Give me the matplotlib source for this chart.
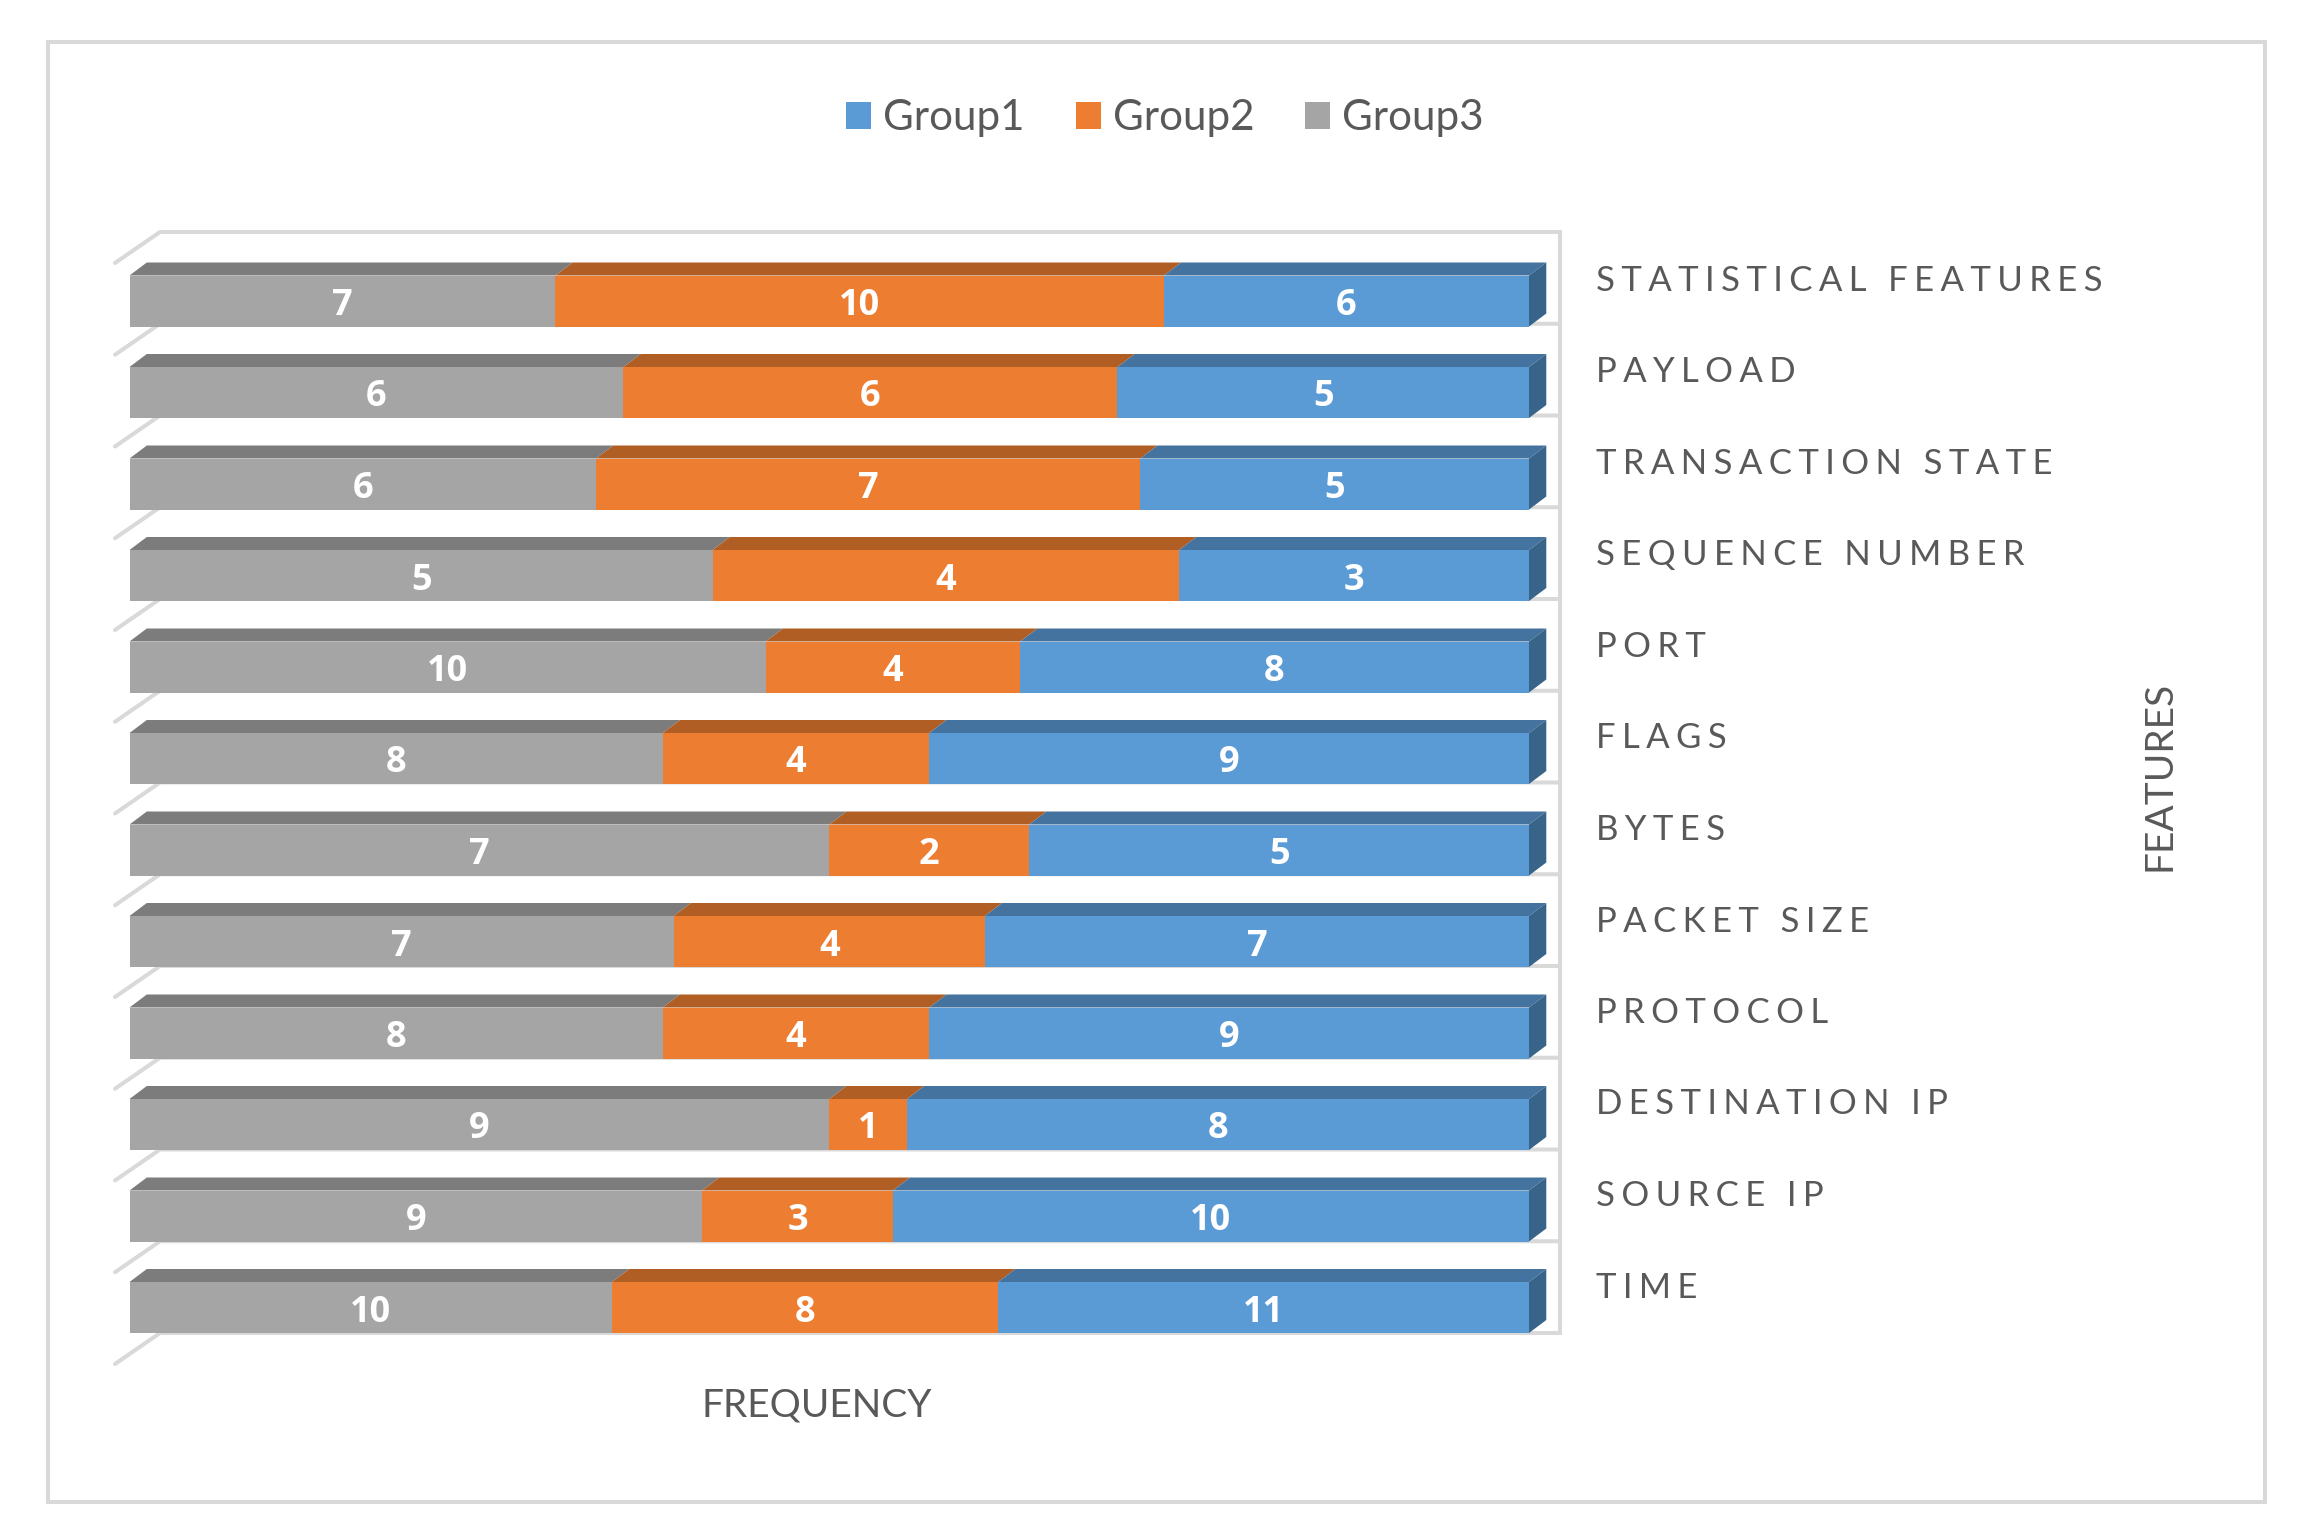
import numpy as np
import matplotlib
matplotlib.use("Agg")
import matplotlib.pyplot as plt
from matplotlib.patches import Polygon, Rectangle

plt.rcParams['font.family'] = ['Lato', 'DejaVu Sans']

# bottom row first
features = ["TIME", "SOURCE IP", "DESTINATION IP", "PROTOCOL", "PACKET SIZE", "BYTES",
            "FLAGS", "PORT", "SEQUENCE NUMBER", "TRANSACTION STATE", "PAYLOAD",
            "STATISTICAL FEATURES"]
group3 = [10, 9, 9, 8, 7, 7, 8, 10, 5, 6, 6, 7]
group2 = [8, 3, 1, 4, 4, 2, 4, 4, 4, 7, 6, 10]
group1 = [11, 10, 8, 9, 7, 5, 9, 8, 3, 5, 5, 6]

W, H = 2313, 1538
TEXT = '#595959'
GRID = '#D9D9D9'

fig = plt.figure(figsize=(W / 100, H / 100), dpi=100, facecolor='white')

# outer chart border
fig.add_artist(Rectangle((48 / W, 1 - 1502 / H), (2265 - 48) / W, (1502 - 42) / H,
                         transform=fig.transFigure, fill=False, edgecolor=GRID, linewidth=2.9))

# axes = front plane of the bars, 0-100 percent stacked
pitch = 91.5
left_px, right_px = 129.5, 1529
base_px = 1307.5 + pitch / 2
ax = fig.add_axes([left_px / W, 1 - base_px / H, (right_px - left_px) / W, pitch * 12 / H])
ax.set_xlim(0, 100)
ax.set_ylim(-0.5, 11.5)
ax.axis('off')

px_x = 100 / (right_px - left_px)
px_y = 1 / pitch


def row_y(py):
    # image row to axis units
    return (base_px - py) / pitch - 0.5


# back wall, floor lines
wall_x0, wall_x1 = (160 - left_px) * px_x, (1560 - left_px) * px_x
wall_front = (115 - left_px) * px_x
wall_pitch = 91.75
for k in range(13):
    y_back = row_y(1333 - wall_pitch * k)
    y_front = row_y(1364 - wall_pitch * k)
    ax.plot([wall_front, wall_x0, wall_x1], [y_front, y_back, y_back], color=GRID, lw=2.9,
            clip_on=False, solid_capstyle='round', solid_joinstyle='miter', zorder=1)
ax.plot([wall_x1, wall_x1], [row_y(1333), row_y(232)], color=GRID, lw=2.9,
        clip_on=False, solid_capstyle='projecting', zorder=1)

y = np.arange(len(features))
groups = [('Group3', group3, '#A5A5A5', '#7C7C7C'),
          ('Group2', group2, '#ED7D31', '#B15E25'),
          ('Group1', group1, '#5B9BD5', '#44739F')]
totals = np.array(group1) + np.array(group2) + np.array(group3)
bar_h = 51 * px_y
dx, dy = 17.3 * px_x, 13 * px_y

left = np.zeros(len(features))
handles = {}
for name, vals, col, top_col in groups:
    vals = np.array(vals)
    share = vals / totals * 100
    bars = ax.barh(y, share, left=left, height=bar_h, color=col, linewidth=0, zorder=3, label=name)
    handles[name] = bars
    for i in y:
        x0, x1 = left[i], left[i] + share[i]
        yt = y[i] + bar_h / 2
        ax.add_patch(Polygon([(x0, yt), (x1, yt), (x1 + dx, yt + dy), (x0 + dx, yt + dy)],
                             closed=True, facecolor=top_col, edgecolor='none', zorder=3, clip_on=False))
        ax.text((x0 + x1) / 2, y[i] - 5 * px_y, str(vals[i]), color='white', fontsize=26,
                fontweight='bold', family=['Open Sans', 'DejaVu Sans'], ha='center', va='center', zorder=5)
    left = left + share

# right end faces
for i in y:
    yt, yb = y[i] + bar_h / 2, y[i] - bar_h / 2
    ax.add_patch(Polygon([(100, yt), (100 + dx, yt + dy), (100 + dx, yb + dy), (100, yb)],
                         closed=True, facecolor='#39648A', edgecolor='none', zorder=4, clip_on=False))

# category labels with wide tracking
for i, name in zip(y, features):
    ax.text((1596 - left_px) * px_x, i + 20 * px_y, '\u200a\u200a\u200a'.join(name), color=TEXT,
            fontsize=25, ha='left', va='center', clip_on=False)

fig.text(817 / W, 1 - 1406 / H, 'FREQUENCY', color=TEXT, fontsize=28, ha='center', va='center')
fig.text(2160 / W, 1 - 776 / H, 'FEATURES', color=TEXT, fontsize=28, rotation=90, ha='center', va='center')

fs = 30.3
fig.legend([handles['Group1'], handles['Group2'], handles['Group3']], ['Group1', 'Group2', 'Group3'],
           loc='center', bbox_to_anchor=(1165 / W, 1 - 118 / H), ncol=3, frameon=False,
           fontsize=fs, labelcolor=TEXT, handlelength=25 * 0.72 / fs, handleheight=26 * 0.72 / fs,
           handletextpad=12 * 0.72 / fs, columnspacing=51 * 0.72 / fs, borderpad=0)

fig.savefig('out.png', dpi=100, facecolor='white')
